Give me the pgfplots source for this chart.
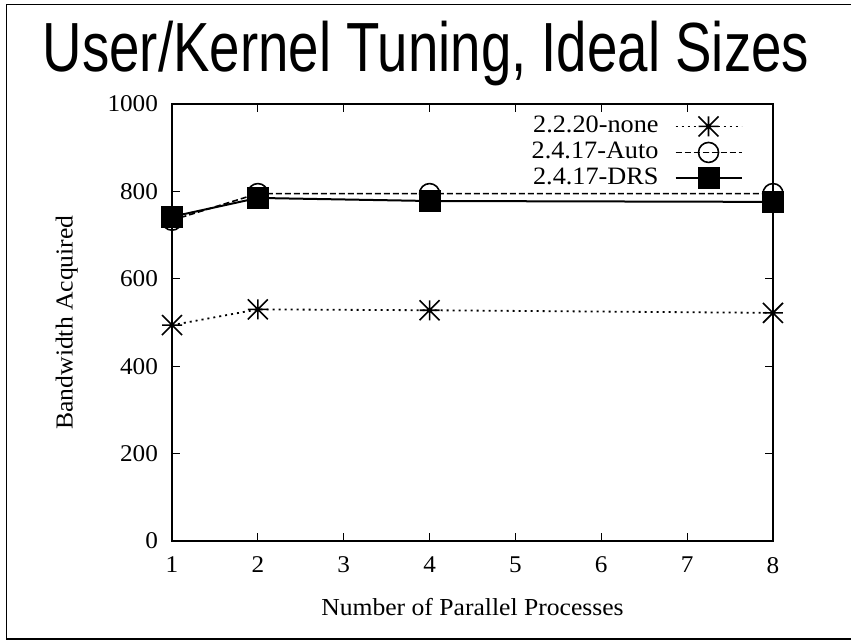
\documentclass[border=0pt]{standalone}
\usepackage{pgfplots}
\pgfplotsset{compat=1.18}
\usepackage{fontspec}
\setmainfont{Liberation Serif}[FakeStretch=1.05]
\newfontfamily\titlefont{Liberation Sans}[FakeStretch=0.785]

% gnuplot-style eight-armed star (plus and cross combined)
\pgfdeclareplotmark{gpstar}{%
  \pgfpathmoveto{\pgfqpoint{-\pgfplotmarksize}{0pt}}%
  \pgfpathlineto{\pgfqpoint{\pgfplotmarksize}{0pt}}%
  \pgfpathmoveto{\pgfqpoint{0pt}{-\pgfplotmarksize}}%
  \pgfpathlineto{\pgfqpoint{0pt}{\pgfplotmarksize}}%
  \pgfpathmoveto{\pgfqpoint{-\pgfplotmarksize}{-\pgfplotmarksize}}%
  \pgfpathlineto{\pgfqpoint{\pgfplotmarksize}{\pgfplotmarksize}}%
  \pgfpathmoveto{\pgfqpoint{-\pgfplotmarksize}{\pgfplotmarksize}}%
  \pgfpathlineto{\pgfqpoint{\pgfplotmarksize}{-\pgfplotmarksize}}%
  \pgfusepathqstroke}

\begin{document}
\begin{tikzpicture}
\useasboundingbox (0,0) rectangle (425.5pt,320.5pt);
% slide frame: top, left and bottom edges
\draw[line width=0.8pt] (425.5pt,318.3pt) -- (3.3pt,318.3pt) -- (3.3pt,1pt) -- (425.5pt,1pt);
\node[anchor=base, inner sep=0pt, font=\titlefont\fontsize{34.8}{40}\selectfont]
  at (213pt,284.5pt) {User/Kernel Tuning, Ideal Sizes};

\begin{axis}[
  at={(86pt,50pt)}, anchor=south west,
  scale only axis, width=300.5pt, height=218.5pt,
  xmin=1, xmax=8, ymin=0, ymax=1000,
  xtick={1,...,8}, ytick={0,200,...,1000},
  tick align=inside, major tick length=4pt,
  axis line style={line width=0.7pt},
  every tick/.style={black, line width=0.6pt},
  /pgf/number format/assume math mode=true,
  /pgf/number format/1000 sep={},
  ticklabel style={font=\fontsize{12}{14}\selectfont},
  xticklabel shift=4.5pt, yticklabel shift=3.5pt,
  xlabel={Number of Parallel Processes},
  ylabel={Bandwidth Acquired},
  label style={font=\fontsize{12.2}{14}\selectfont},
  xlabel style={at={(axis description cs:0.5,-0.151)}, anchor=center},
  ylabel style={at={(axis description cs:-0.175,0.5)}, anchor=center},
  legend plot pos=right,
  legend cell align=right,
  legend style={draw=none, fill=none, at={(0.95,0.977)}, anchor=north east,
    font=\fontsize{12.5}{14}\selectfont, inner sep=0pt, row sep=1pt,
    column sep=8pt,
    nodes={inner sep=0pt, text height=9pt, text depth=3pt}},
  legend image code/.code={%
    \draw[mark repeat=2, mark phase=2] plot coordinates {(0pt,0pt) (16.5pt,0pt) (33pt,0pt)};},
]
\addplot[black, line width=0.9pt, dash pattern=on 1pt off 2pt,
  mark=gpstar, mark size=5pt, mark options={solid, line width=0.8pt}]
  coordinates {(1,494) (2,530) (4,528) (8,522)};
\addlegendentry{2.2.20-none}
\addplot[black, line width=0.8pt, dash pattern=on 3pt off 1.5pt,
  mark=o, mark size=5pt, mark options={solid, line width=0.8pt}]
  coordinates {(1,734) (2,795) (4,795) (8,795)};
\addlegendentry{2.4.17-Auto}
\addplot[black, line width=1pt,
  mark=square*, mark size=5pt, mark options={solid}]
  coordinates {(1,742) (2,785) (4,778) (8,776)};
\addlegendentry{2.4.17-DRS}
\end{axis}
\end{tikzpicture}
\end{document}
